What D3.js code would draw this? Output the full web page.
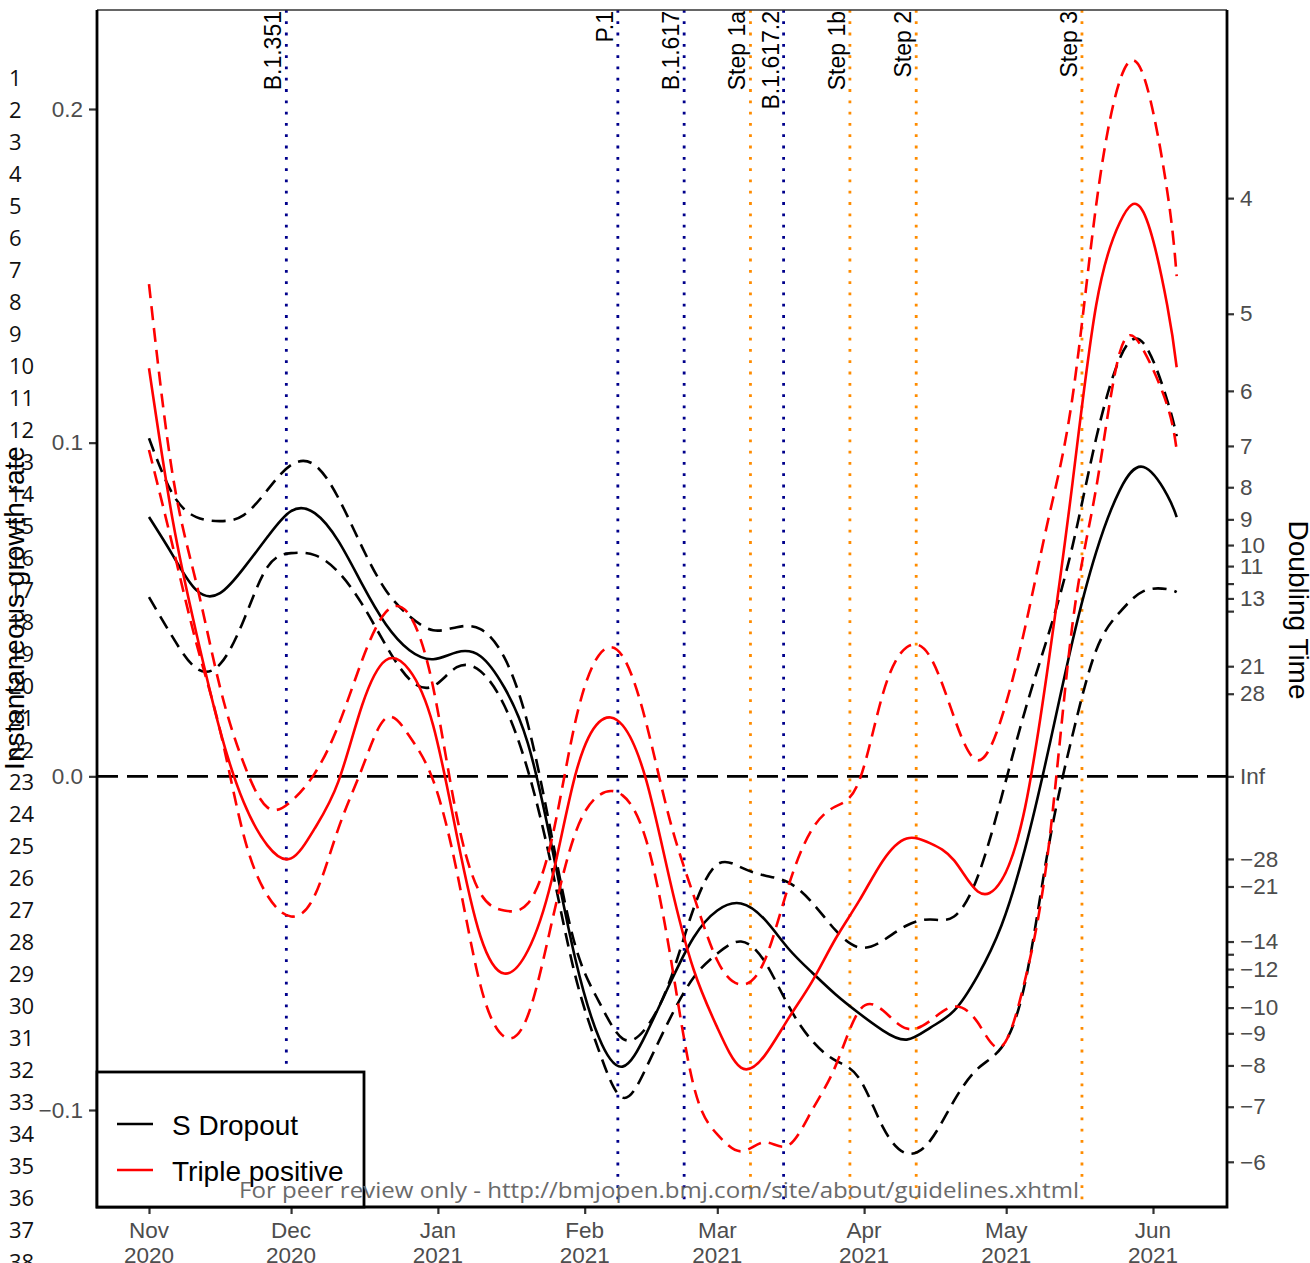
<!DOCTYPE html>
<html>
<head>
<meta charset="utf-8">
<title>Instantaneous growth rate: S Dropout vs Triple positive</title>
<script src="https://d3js.org/d3.v7.min.js" charset="utf-8"></script>
<style>
	body { margin: 0; background: #fff; }
	svg { display: block; font-family: "Liberation Sans", Arial, sans-serif; }
	.tick-label { fill: #4d4d4d; font-size: 22.5px; }
	.axis-title { fill: #000; font-size: 28px; }
	.event-label { fill: #000; font-size: 23px; }
	.legend-text { fill: #000; font-size: 28px; }
	.line-no { fill: #111; font-family: "Open Sans", sans-serif; font-size: 22px; }
	.watermark { fill: #6a6a6a; font-family: "Open Sans", sans-serif; font-size: 22.5px; }
	.curve { fill: none; stroke-width: 2.6px; }
</style>
</head>
<body>
<div id="box"></div>
<script>
	// days after 1 Nov 2020
	var dayOffsets = [0, 5, 10, 15, 20, 25, 30, 35, 40, 45,
		50, 55, 60, 65, 70, 75, 80, 85, 90, 95,
		100, 105, 110, 115, 120, 125, 130, 135, 140, 145,
		150, 155, 160, 165, 170, 175, 180, 185, 190, 195,
		200, 205, 210, 215, 217];

	// S Dropout: estimate and interval
	var sDropMid = [0.0777, 0.0663, 0.0558, 0.0549, 0.0624, 0.0717, 0.0795, 0.0789, 0.0705, 0.0576,
		0.0456, 0.0378, 0.0351, 0.0372, 0.0360, 0.0267, 0.0099, -0.0207, -0.0546, -0.0783,
		-0.0870, -0.0771, -0.0621, -0.0483, -0.0402, -0.0381, -0.0429, -0.0516, -0.0588, -0.0654,
		-0.0711, -0.0762, -0.0789, -0.0753, -0.0702, -0.0597, -0.0447, -0.0216, 0.0084, 0.0405,
		0.0672, 0.0858, 0.0927, 0.0843, 0.0777];
	var sDropHi = [0.1013, 0.0846, 0.0777, 0.0765, 0.0783, 0.0858, 0.0933, 0.0933, 0.0834, 0.0687,
		0.0558, 0.0480, 0.0438, 0.0447, 0.0441, 0.0357, 0.0156, -0.0177, -0.0507, -0.0675,
		-0.0786, -0.0753, -0.0612, -0.0396, -0.0264, -0.0273, -0.0297, -0.0318, -0.0378, -0.0462,
		-0.0513, -0.0492, -0.0447, -0.0429, -0.0420, -0.0300, -0.0063, 0.0198, 0.0429, 0.0690,
		0.1013, 0.1253, 0.1298, 0.1127, 0.1019];
	var sDropLo = [0.0537, 0.0417, 0.0324, 0.0336, 0.0468, 0.0627, 0.0669, 0.0663, 0.0612, 0.0516,
		0.0393, 0.0291, 0.0270, 0.0327, 0.0315, 0.0213, 0.0018, -0.0270, -0.0597, -0.0822,
		-0.0963, -0.0873, -0.0726, -0.0603, -0.0531, -0.0495, -0.0555, -0.0687, -0.0792, -0.0852,
		-0.0906, -0.1052, -0.1130, -0.1091, -0.0972, -0.0876, -0.0813, -0.0618, -0.0207, 0.0123,
		0.0378, 0.0492, 0.0555, 0.0561, 0.0552];

	// Triple positive: estimate and interval
	var tripMid = [0.1223, 0.0768, 0.0429, 0.0138, -0.0078, -0.0207, -0.0246, -0.0156, -0.0015, 0.0213,
		0.0348, 0.0318, 0.0153, -0.0177, -0.0480, -0.0591, -0.0522, -0.0312, 0.0003, 0.0162,
		0.0153, -0.0012, -0.0312, -0.0579, -0.0753, -0.0873, -0.0837, -0.0726, -0.0615, -0.0486,
		-0.0372, -0.0252, -0.0186, -0.0201, -0.0252, -0.0345, -0.0312, -0.0093, 0.0348, 0.0879,
		0.1412, 0.1660, 0.1690, 0.1412, 0.1226];
	var tripHi = [0.1475, 0.0903, 0.0579, 0.0267, 0.0039, -0.0093, -0.0075, 0.0009, 0.0153, 0.0348,
		0.0492, 0.0483, 0.0267, -0.0120, -0.0351, -0.0402, -0.0381, -0.0192, 0.0162, 0.0363,
		0.0360, 0.0159, -0.0132, -0.0357, -0.0552, -0.0624, -0.0552, -0.0330, -0.0159, -0.0090,
		-0.0012, 0.0249, 0.0387, 0.0357, 0.0177, 0.0048, 0.0174, 0.0447, 0.0777, 0.1136,
		0.1712, 0.2085, 0.2100, 0.1754, 0.1499];
	var tripLo = [0.0978, 0.0690, 0.0399, 0.0138, -0.0177, -0.0357, -0.0420, -0.0357, -0.0156, 0.0024,
		0.0174, 0.0120, -0.0012, -0.0285, -0.0627, -0.0780, -0.0717, -0.0441, -0.0171, -0.0057,
		-0.0057, -0.0192, -0.0531, -0.0927, -0.1073, -0.1124, -0.1097, -0.1106, -0.1001, -0.0867,
		-0.0702, -0.0702, -0.0756, -0.0732, -0.0690, -0.0738, -0.0810, -0.0609, -0.0207, 0.0456,
		0.0864, 0.1271, 0.1277, 0.1112, 0.0978];

	var eventNames = ['B.1.351', 'P.1', 'B.1.617', 'Step 1a', 'B.1.617.2', 'Step 1b', 'Step 2', 'Step 3'];
	var eventDates = ['2020-11-30', '2021-02-08', '2021-02-22', '2021-03-08', '2021-03-15', '2021-03-29', '2021-04-12', '2021-05-17'];
	var eventKinds = ['variant', 'variant', 'variant', 'step', 'variant', 'step', 'step', 'step'];

	var monthDates = ['2020-11-01', '2020-12-01', '2021-01-01', '2021-02-01', '2021-03-01', '2021-04-01', '2021-05-01', '2021-06-01'];
	var monthNames = ['Nov', 'Dec', 'Jan', 'Feb', 'Mar', 'Apr', 'May', 'Jun'];
	var monthYears = ['2020', '2020', '2021', '2021', '2021', '2021', '2021', '2021'];

	var growthTicks = [-0.1, 0.0, 0.1, 0.2];
	var doublingTicks = [4, 5, 6, 7, 8, 9, 10, 11, 12, 13, 14, 21, 28, Infinity, -28, -21, -14, -13, -12, -11, -10, -9, -8, -7, -6];
	var doublingLabels = ['4', '5', '6', '7', '8', '9', '10', '11', '', '13', '', '21', '28', 'Inf', '−28', '−21', '−14', '', '−12', '', '−10', '−9', '−8', '−7', '−6'];

	var legendNames = ['S Dropout', 'Triple positive'];
	var legendColors = ['#000000', '#ff0000'];

	var pageLines = d3.range(1, 39);
	var watermarkText = 'For peer review only - http://bmjopen.bmj.com/site/about/guidelines.xhtml';

	//画布
	var W = 1310, H = 1263;
	var plot = {left: 97, right: 1227, top: 10, bottom: 1207};
	var parse = d3.utcParse('%Y-%m-%d');
	var start = parse('2020-11-01');

	var svg = d3.select('#box').append('svg').attr('width', W).attr('height', H);
	svg.append('rect').attr('width', W).attr('height', H).attr('fill', '#fff');

	var x = d3.scaleUtc().domain([start, parse('2021-06-01')]).range([149, 1153]);
	var y = d3.scaleLinear().domain([-0.1, 0.2]).range([1110, 109]);

	function series(vals) {
		return dayOffsets.map((d, i) => ({date: d3.utcDay.offset(start, d), r: vals[i]}));
	}

	var line = d3.line()
		.x(d => x(d.date))
		.y(d => y(d.r))
		.curve(d3.curveNatural);

	//事件竖线
	var ev = svg.append('g');
	eventNames.forEach((name, i) => {
		var ex = x(parse(eventDates[i]));
		ev.append('line')
			.attr('x1', ex).attr('x2', ex)
			.attr('y1', plot.top).attr('y2', plot.bottom)
			.attr('stroke', eventKinds[i] == 'variant' ? '#00008b' : '#ff8c00')
			.attr('stroke-width', 2.8)
			.attr('stroke-dasharray', '2.8,8.5');
		ev.append('text')
			.attr('class', 'event-label')
			.attr('text-anchor', 'end')
			.attr('transform', `translate(${ex - 5},11) rotate(-90)`)
			.text(name);
	});

	//零线
	svg.append('line')
		.attr('x1', plot.left).attr('x2', plot.right)
		.attr('y1', y(0)).attr('y2', y(0))
		.attr('stroke', '#000').attr('stroke-width', 2.8)
		.attr('stroke-dasharray', '21,9');

	//曲线
	var curves = [
		{vals: sDropHi, color: '#000', dash: '14,8'},
		{vals: sDropLo, color: '#000', dash: '14,8'},
		{vals: sDropMid, color: '#000', dash: null},
		{vals: tripHi, color: '#ff0000', dash: '14,8'},
		{vals: tripLo, color: '#ff0000', dash: '14,8'},
		{vals: tripMid, color: '#ff0000', dash: null}
	];
	svg.append('g').selectAll('path')
		.data(curves)
		.enter()
		.append('path')
		.attr('class', 'curve')
		.attr('d', d => line(series(d.vals)))
		.attr('stroke', d => d.color)
		.attr('stroke-dasharray', d => d.dash);

	//左轴
	var yAxis = svg.append('g')
		.attr('transform', `translate(${plot.left},0)`)
		.call(d3.axisLeft(y).tickValues(growthTicks).tickFormat(d3.format('.1f')).tickSize(8).tickPadding(6));
	//右轴
	var y2Axis = svg.append('g')
		.attr('transform', `translate(${plot.right},0)`)
		.call(d3.axisRight(y).tickValues(doublingTicks.map(d => Math.LN2 / d))
			.tickFormat((d, i) => doublingLabels[i]).tickSize(7).tickPadding(6));
	//底轴
	var xAxis = svg.append('g')
		.attr('transform', `translate(0,${plot.bottom})`)
		.call(d3.axisBottom(x).tickValues(monthDates.map(parse)).tickFormat('').tickSize(7));

	[yAxis, y2Axis, xAxis].forEach(g => {
		g.select('.domain').remove();
		g.selectAll('.tick line').attr('stroke', '#333').attr('stroke-width', 2.2);
		g.selectAll('.tick text').attr('class', 'tick-label').attr('font-family', null).attr('font-size', null).attr('fill', null);
	});

	monthDates.forEach((d, i) => {
		var t = svg.append('text')
			.attr('class', 'tick-label')
			.attr('text-anchor', 'middle')
			.attr('x', x(parse(d)))
			.attr('y', 1238);
		t.append('tspan').attr('x', x(parse(d))).text(monthNames[i]);
		t.append('tspan').attr('x', x(parse(d))).attr('dy', 25).text(monthYears[i]);
	});

	//边框
	svg.append('line').attr('x1', plot.left).attr('x2', plot.right).attr('y1', plot.top).attr('y2', plot.top)
		.attr('stroke', '#333').attr('stroke-width', 1.5);
	svg.append('path')
		.attr('d', `M${plot.left},${plot.top}V${plot.bottom}H${plot.right}V${plot.top}`)
		.attr('fill', 'none').attr('stroke', '#000').attr('stroke-width', 2.8);

	//轴标题
	svg.append('text')
		.attr('class', 'axis-title')
		.attr('text-anchor', 'middle')
		.attr('transform', 'translate(24,608) rotate(-90)')
		.text('Instantaneous growth rate');
	svg.append('text')
		.attr('class', 'axis-title')
		.attr('text-anchor', 'middle')
		.attr('transform', 'translate(1289,610) rotate(90)')
		.text('Doubling Time');

	//图例
	var legend = svg.append('g');
	legend.append('rect')
		.attr('x', plot.left).attr('y', 1072)
		.attr('width', 267).attr('height', plot.bottom - 1072)
		.attr('fill', '#fff').attr('stroke', '#000').attr('stroke-width', 2.8);
	legendNames.forEach((name, i) => {
		var ly = 1124 + i * 46;
		legend.append('line')
			.attr('x1', 117).attr('x2', 153).attr('y1', ly).attr('y2', ly)
			.attr('stroke', legendColors[i]).attr('stroke-width', 2.6);
		legend.append('text')
			.attr('class', 'legend-text')
			.attr('x', 172).attr('y', ly + 11)
			.text(name);
	});

	//行号
	svg.append('g').selectAll('text')
		.data(pageLines)
		.enter()
		.append('text')
		.attr('class', 'line-no')
		.attr('x', 9)
		.attr('y', d => 86 + (d - 1) * 32)
		.text(d => d);

	svg.append('text')
		.attr('class', 'watermark')
		.attr('x', 239).attr('y', 1198)
		.attr('textLength', 840)
		.attr('lengthAdjust', 'spacingAndGlyphs')
		.text(watermarkText);
</script>
</body>
</html>
